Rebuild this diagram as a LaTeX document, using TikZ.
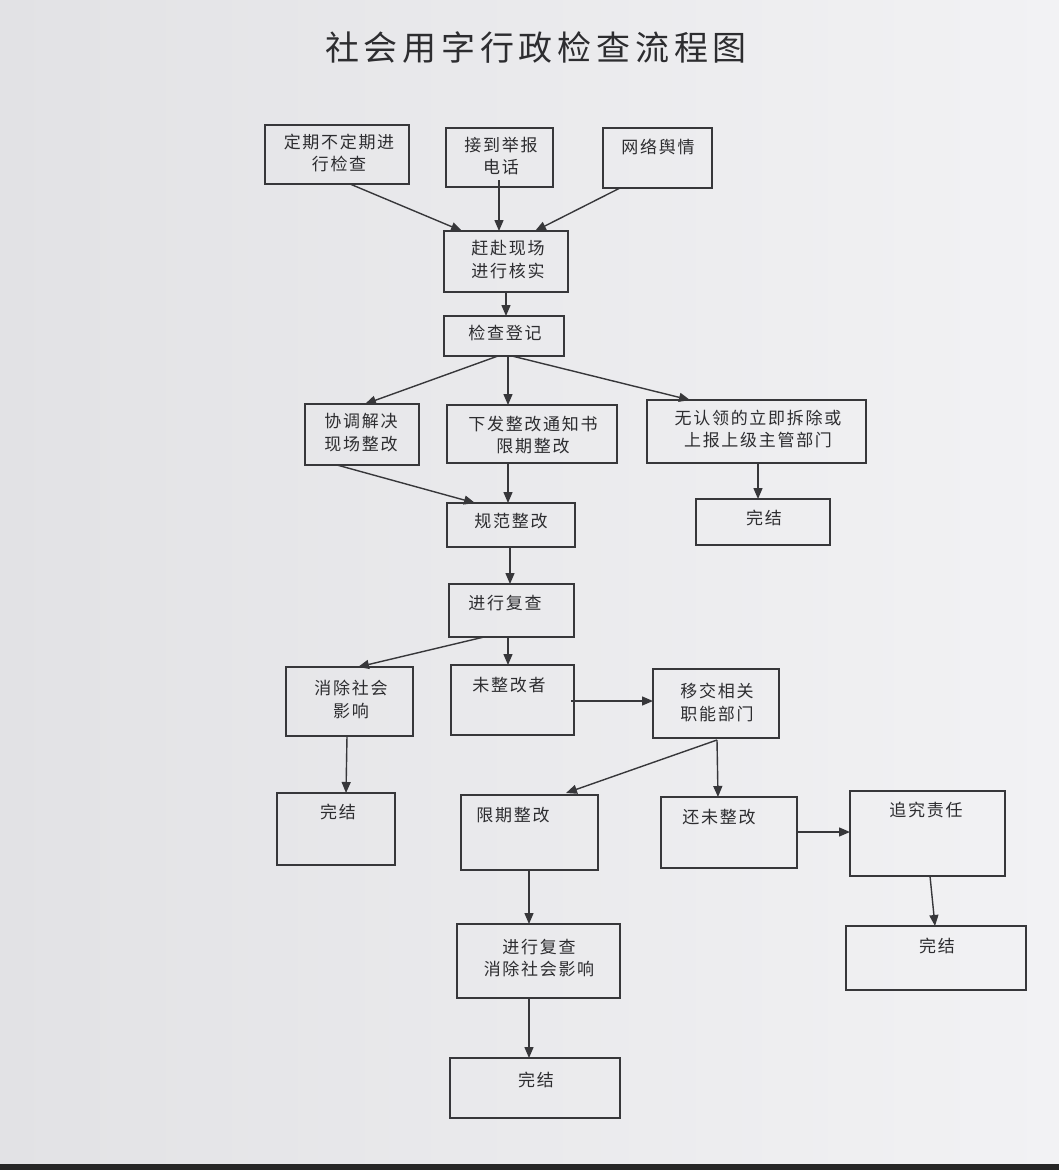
\documentclass[tikz,border=0pt]{standalone}
\usepackage{fontspec}
\setmainfont{Noto Sans CJK SC}
\usetikzlibrary{arrows.meta}
\definecolor{bgl}{RGB}{226,226,229}
\definecolor{bgr}{RGB}{242,242,244}
\definecolor{ln}{RGB}{55,55,58}
\definecolor{tx}{RGB}{45,45,48}
\begin{document}
\begin{tikzpicture}[x=1pt,y=-1pt,
  box/.style={draw=ln, line width=1.4pt, inner sep=0pt, outer sep=0pt},
  txt/.style={font=\fontsize{17}{22.5}\selectfont\addfontfeature{LetterSpace=10}, text=tx, inner sep=0pt, align=center},
  arr/.style={draw=ln, line width=1.4pt, -{Triangle[length=11pt,width=9pt]}}]
\shade[left color=bgl, right color=bgr] (0,0) rectangle (1059,1170);
\fill[black!85] (0,1164) rectangle (1059,1170);
\useasboundingbox (0,0) rectangle (1059,1170);

\node[font=\fontsize{34}{38}\selectfont\addfontfeature{LetterSpace=14}, text=tx, inner sep=0pt] (title) at (536,48) {社会用字行政检查流程图};

% boxes
\node[box, minimum width=144pt, minimum height=59pt] (A) at (337,154.5) {};
\node[box, minimum width=107pt, minimum height=59pt] (B) at (499.5,157.5) {};
\node[box, minimum width=109pt, minimum height=60pt] (C) at (657.5,158) {};
\node[box, minimum width=124pt, minimum height=61pt] (D) at (506,261.5) {};
\node[box, minimum width=120pt, minimum height=40pt] (E) at (504,336) {};
\node[box, minimum width=114pt, minimum height=61pt] (F) at (362,434.5) {};
\node[box, minimum width=170pt, minimum height=58pt] (G) at (532,434) {};
\node[box, minimum width=219pt, minimum height=63pt] (H) at (756.5,431.5) {};
\node[box, minimum width=134pt, minimum height=46pt] (I) at (763,522) {};
\node[box, minimum width=128pt, minimum height=44pt] (J) at (511,525) {};
\node[box, minimum width=125pt, minimum height=53pt] (K) at (511.5,610.5) {};
\node[box, minimum width=127pt, minimum height=69pt] (L) at (349.5,701.5) {};
\node[box, minimum width=123pt, minimum height=70pt] (M) at (512.5,700) {};
\node[box, minimum width=126pt, minimum height=69pt] (N) at (716,703.5) {};
\node[box, minimum width=118pt, minimum height=72pt] (O) at (336,829) {};
\node[box, minimum width=137pt, minimum height=75pt] (P) at (529.5,832.5) {};
\node[box, minimum width=136pt, minimum height=71pt] (Q) at (729,832.5) {};
\node[box, minimum width=155pt, minimum height=85pt] (R) at (927.5,833.5) {};
\node[box, minimum width=163pt, minimum height=74pt] (S) at (538.5,961) {};
\node[box, minimum width=180pt, minimum height=64pt] (T) at (936,958) {};
\node[box, minimum width=170pt, minimum height=60pt] (U) at (535,1088) {};

% texts
\node[txt] (tA) at (339,153) {定期不定期进\\行检查};
\node[txt] (tB) at (501,156) {接到举报\\电话};
\node[txt] (tC) at (658,147) {网络舆情};
\node[txt] (tD) at (508,259.5) {赶赴现场\\进行核实};
\node[txt] (tE) at (505,333) {检查登记};
\node[txt] (tF) at (361,432.5) {协调解决\\现场整改};
\node[txt] (tG) at (533,435) {下发整改通知书\\限期整改};
\node[txt] (tH) at (758,429) {无认领的立即拆除或\\上报上级主管部门};
\node[txt] (tI) at (764,518) {完结};
\node[txt] (tJ) at (511,521) {规范整改};
\node[txt] (tK) at (505,603) {进行复查};
\node[txt] (tL) at (351,699.5) {消除社会\\影响};
\node[txt] (tM) at (509,685) {未整改者};
\node[txt] (tN) at (717,702.5) {移交相关\\职能部门};
\node[txt] (tO) at (338,812) {完结};
\node[txt] (tP) at (513,815) {限期整改};
\node[txt] (tQ) at (719,817) {还未整改};
\node[txt] (tR) at (926,810) {追究责任};
\node[txt] (tS) at (539,958) {进行复查\\消除社会影响};
\node[txt] (tT) at (937,946) {完结};
\node[txt] (tU) at (536,1080) {完结};

% connectors
\draw[arr] ([xshift=13pt]A.south) -- ([xshift=-44pt]D.north);
\draw[arr] ([xshift=-0.5pt,yshift=7pt]B.south) -- ([xshift=-7pt]D.north);
\draw[arr] ([xshift=-37.5pt]C.south) -- ([xshift=29pt]D.north);
\draw[arr] (D.south) -- ([xshift=2pt]E.north);
\draw[arr] ([xshift=-6pt]E.south) -- ([xshift=3pt]F.north);
\draw[arr] ([xshift=4pt]E.south) -- ([xshift=-24pt]G.north);
\draw[arr] ([xshift=8pt]E.south) -- ([xshift=-66.5pt]H.north);
\draw[arr] ([xshift=-25pt]F.south) -- ([xshift=-36pt]J.north);
\draw[arr] ([xshift=-24pt]G.south) -- ([xshift=-3pt]J.north);
\draw[arr] ([xshift=1.5pt]H.south) -- ([xshift=-5pt]I.north);
\draw[arr] ([xshift=-1pt]J.south) -- ([xshift=-1.5pt]K.north);
\draw[arr] ([xshift=-27.5pt]K.south) -- ([xshift=8.5pt]L.north);
\draw[arr] ([xshift=-3.5pt]K.south) -- ([xshift=-4.5pt]M.north);
\draw[arr] ([xshift=-3pt,yshift=-1pt]M.east) -- ([yshift=2.5pt]N.west);
\draw[arr] ([xshift=-2.5pt]L.south) -- ([xshift=10pt]O.north);
\draw[arr] ([xshift=1pt,yshift=-2pt]N.south) -- ([xshift=36.5pt,yshift=2pt]P.north);
\draw[arr] ([xshift=1pt,yshift=-2pt]N.south) -- ([xshift=-11pt]Q.north);
\draw[arr] ([yshift=0.5pt]Q.east) -- ([yshift=1.5pt]R.west);
\draw[arr] ([xshift=-0.5pt]P.south) -- ([xshift=-9.5pt]S.north);
\draw[arr] ([xshift=2.5pt]R.south) -- ([xshift=-1pt]T.north);
\draw[arr] ([xshift=-9.5pt]S.south) -- ([xshift=-6pt]U.north);
\end{tikzpicture}
\end{document}
